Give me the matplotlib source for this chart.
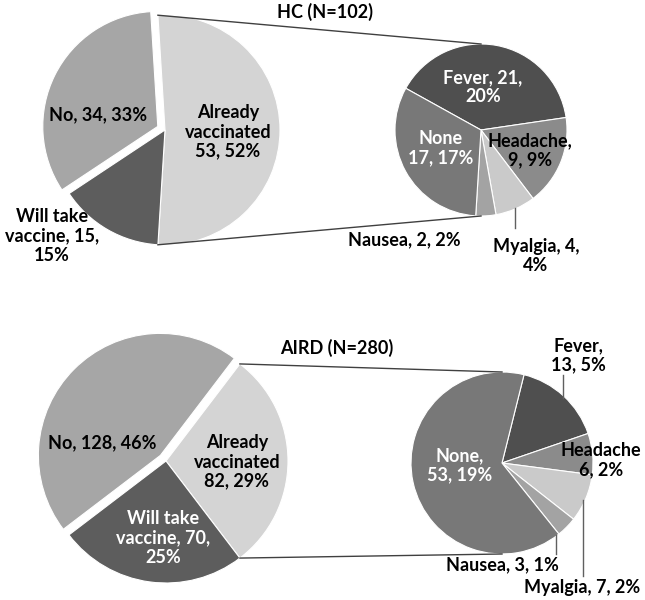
import numpy as np
import matplotlib.pyplot as plt

plt.rcParams['font.family'] = ['Lato', 'DejaVu Sans']

W, H = 645, 600

# Données
main_labels = ['Already vaccinated', 'Will take vaccine', 'No']
main_colors = ['#d4d4d4', '#5d5d5d', '#a6a6a6']
sub_labels = ['Fever', 'Headache', 'Myalgia', 'Nausea', 'None']
sub_colors = ['#4f4f4f', '#8b8b8b', '#cacaca', '#a3a3a3', '#787878']

hc_main = [53, 15, 34]
hc_sub = [21, 9, 4, 2, 17]
hc_pct_main = [52, 15, 33]
hc_pct_sub = [20, 9, 4, 2, 17]

aird_main = [82, 70, 128]
aird_sub = [13, 6, 7, 3, 53]
aird_pct_main = [29, 25, 46]
aird_pct_sub = [5, 2, 2, 1, 19]

titles = ['HC (N=102)', 'AIRD (N=280)']


def Y(y):
    # coordonnées image -> coordonnées axes (y vers le haut)
    return H - y


fig = plt.figure(figsize=(W / 100, H / 100), dpi=100)
ax = fig.add_axes([0, 0, 1, 1])

wp = dict(edgecolor='white', linewidth=0.8)
fs = 13


def draw_panel(main, sub, pm, ps, title, c_main, r_main, c_sub, r_sub,
               sub_start, explode, main_txt, sub_txt, leaders, title_xy):
    frac = main[0] / sum(main)
    # explode est en unités de données ici (rayon != 1)
    ax.pie(main, colors=main_colors, startangle=frac * 180, counterclock=False,
           center=c_main, radius=r_main, explode=[0, 0, explode * r_main],
           wedgeprops=wp)
    ax.pie(sub, colors=sub_colors, startangle=sub_start, counterclock=False,
           center=c_sub, radius=r_sub, wedgeprops=wp)

    # lignes de liaison
    a = np.deg2rad(frac * 180)
    for s in (1, -1):
        x0 = c_main[0] + r_main * np.cos(a)
        y0 = c_main[1] + s * r_main * np.sin(a)
        ax.plot([x0, c_sub[0]], [y0, c_sub[1] + s * r_sub],
                color='#404040', lw=1)

    for (x, y, txt, col) in main_txt + sub_txt:
        ax.text(x, Y(y), txt, ha='center', va='center', fontsize=fs,
                fontweight='bold', color=col, linespacing=1.15)
    for (x, y1, y2) in leaders:
        ax.plot([x, x], [Y(y1), Y(y2)], color='#606060', lw=1)
    ax.text(title_xy[0], Y(title_xy[1]), title, ha='center', va='center',
            fontsize=fs, fontweight='bold')


# HC
draw_panel(hc_main, hc_sub, hc_pct_main, hc_pct_sub, titles[0],
           (165, Y(130)), 115, (481, Y(130)), 86, 151, 0.07,
           [(228, 132, f'Already\nvaccinated\n{hc_main[0]}, {hc_pct_main[0]}%', 'black'),
            (52, 236, f'Will take\nvaccine, {hc_main[1]},\n{hc_pct_main[1]}%', 'black'),
            (98, 115, f'No, {hc_main[2]}, {hc_pct_main[2]}%', 'black')],
           [(483, 87, f'Fever, {hc_sub[0]},\n{hc_pct_sub[0]}%', 'white'),
            (530, 150, f'Headache,\n{hc_sub[1]}, {hc_pct_sub[1]}%', 'black'),
            (536, 256, f'Myalgia, {hc_sub[2]},\n{hc_pct_sub[2]}%', 'black'),
            (404, 240, f'Nausea, {hc_sub[3]}, {hc_pct_sub[3]}%', 'black'),
            (441, 148, f'None\n{hc_sub[4]}, {hc_pct_sub[4]}%', 'white')],
           [(515, 208, 228)], (325, 12))

# AIRD
draw_panel(aird_main, aird_sub, aird_pct_main, aird_pct_sub, titles[1],
           (166, Y(461)), 122, (502, Y(463)), 91, 76, 0.065,
           [(237, 462, f'Already\nvaccinated\n{aird_main[0]}, {aird_pct_main[0]}%', 'black'),
            (163, 538, f'Will take\nvaccine, {aird_main[1]},\n{aird_pct_main[1]}%', 'white'),
            (102, 443, f'No, {aird_main[2]}, {aird_pct_main[2]}%', 'black')],
           [(578, 355, f'Fever,\n{aird_sub[0]}, {aird_pct_sub[0]}%', 'black'),
            (601, 460, f'Headache\n{aird_sub[1]}, {aird_pct_sub[1]}%', 'black'),
            (582, 587, f'Myalgia, {aird_sub[2]}, {aird_pct_sub[2]}%', 'black'),
            (502, 565, f'Nausea, {aird_sub[3]}, {aird_pct_sub[3]}%', 'black'),
            (460, 465, f'None,\n{aird_sub[4]}, {aird_pct_sub[4]}%', 'white')],
           [(563, 375, 398), (556, 535, 554), (583, 500, 576)], (337, 348))

ax.set_xlim(0, W)
ax.set_ylim(0, H)
ax.set_aspect('equal')
ax.axis('off')

plt.savefig('out.png', dpi=100)
